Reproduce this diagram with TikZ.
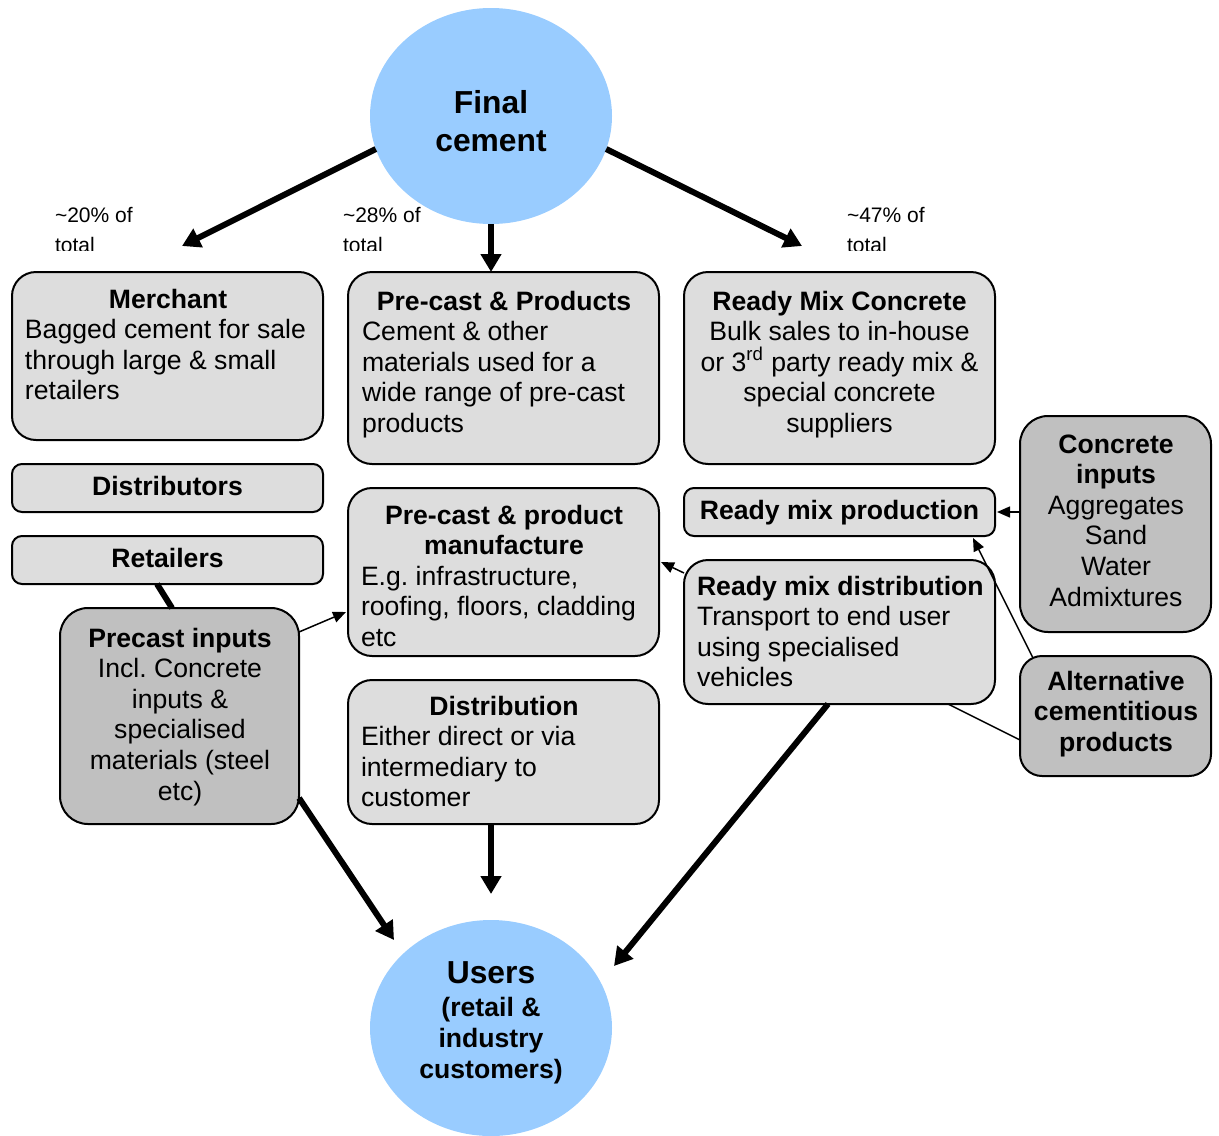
\documentclass[tikz,border=0pt]{standalone}
\usepackage{fontspec}
\setmainfont{Liberation Sans}
\usetikzlibrary{calc,shapes.geometric,arrows.meta}
\definecolor{capblue}{HTML}{99CCFF}
\definecolor{boxgray}{HTML}{DDDDDD}
\definecolor{darkgraybox}{HTML}{C0C0C0}
\newlength\pxu \setlength\pxu{0.5pt}
\newcommand\tl[1]{\vtop{\halign{##\hfil\cr#1\crcr}}}
\newcommand\tc[1]{\vtop{\halign{\hfil##\hfil\cr#1\crcr}}}
\newcommand\ctr[2]{\hbox to #1\pxu{\hss#2\hss}}
\frenchspacing
\begin{document}
\begin{tikzpicture}[x=0.5pt,y=-0.5pt,
  box/.style={draw, line width=1pt, fill=boxgray, rounded corners=12pt, inner sep=0pt, outer sep=0pt},
  thinbox/.style={box, rounded corners=5pt},
  darkbox/.style={box, fill=darkgraybox, rounded corners=14pt},
  bubble/.style={ellipse, fill=capblue, inner sep=0pt, outer sep=0pt, minimum width=121pt, minimum height=108pt},
  txt/.style={inner sep=0pt, outer sep=0pt, font=\fontsize{13.3}{15.3}\selectfont\frenchspacing},
  ltxt/.style={txt, anchor=base west},
  ctxt/.style={txt, anchor=base},
  pct/.style={inner sep=0pt, outer sep=0pt, anchor=base west, font=\fontsize{10.5}{15}\selectfont},
  bigarrow/.style={line width=3pt, -{Triangle[length=9pt,width=10pt]}},
  thinarrow/.style={line width=0.75pt, -{Triangle[length=6.5pt,width=5.5pt]}},
  thinline/.style={line width=0.75pt},
]
\useasboundingbox (0,0) rectangle (1219,1135);

% ellipses
\node[bubble] (fc) at (491,116) {};
\node[bubble] (users) at (491,1028) {};

% boxes
\node[box, minimum width=155.5pt, minimum height=84pt] (merchant) at (167.5,356) {};
\node[box, minimum width=155.5pt, minimum height=96pt] (pcp) at (503.5,368) {};
\node[box, minimum width=155.5pt, minimum height=96pt] (rmc) at (839.5,368) {};
\node[thinbox, minimum width=155.5pt, minimum height=24pt] (dist) at (167.5,488) {};
\node[thinbox, minimum width=155.5pt, minimum height=24pt] (ret) at (167.5,560) {};
\node[box, minimum width=155.5pt, minimum height=84pt] (pcm) at (503.5,572) {};
\node[thinbox, minimum width=155.5pt, minimum height=24pt] (rmp) at (839.5,512) {};
\node[box, minimum width=155.5pt, minimum height=72pt] (rmd) at (839.5,632) {};
\node[box, minimum width=155.5pt, minimum height=72pt] (distr) at (503.5,752) {};
\node[darkbox, minimum width=119.5pt, minimum height=108pt] (pci) at (179.5,716) {};
\node[darkbox, minimum width=95.5pt, minimum height=108pt] (ci) at (1115.5,524) {};
\node[darkbox, rounded corners=11pt, minimum width=95.5pt, minimum height=60pt] (alt) at (1115.5,716) {};

% texts
\node[ctxt, font=\fontsize{15.9}{19}\selectfont\bfseries] (fc-t) at (491,113) {\tc{Final\cr cement}};
\node[ctxt, font=\fontsize{13.3}{15.5}\selectfont\bfseries] (users-t) at (491,983)
  {\tc{\fontsize{15.9}{19}\selectfont Users\cr\noalign{\vskip1pt} (retail \&\cr industry\cr customers)}};

\node[ltxt] (merchant-t) at (25,308)
  {\tl{\ctr{286}{\textbf{Merchant}}\cr Bagged cement for sale\cr through large \& small\cr retailers}};
\node[ltxt] (pcp-t) at (362,310)
  {\tl{\ctr{284}{\textbf{Pre-cast \& Products}}\cr Cement \& other\cr materials used for a\cr wide range of pre-cast\cr products}};
\node[ctxt] (rmc-t) at (839.5,310)
  {\tc{\textbf{Ready Mix Concrete}\cr Bulk sales to in-house\cr or 3\textsuperscript{rd} party ready mix \&\cr special concrete\cr suppliers}};
\node[ctxt] (dist-t) at (167.5,495) {\textbf{Distributors}};
\node[ctxt] (ret-t) at (167.5,567) {\textbf{Retailers}};
\node[ltxt] (pcm-t) at (361,524)
  {\tl{\ctr{286}{\textbf{Pre-cast \& product}}\cr \ctr{286}{\textbf{manufacture}}\cr E.g. infrastructure,\cr roofing, floors, cladding\cr etc}};
\node[ctxt] (rmp-t) at (839.5,519) {\textbf{Ready mix production}};
\node[ltxt] (rmd-t) at (697,595)
  {\tl{\textbf{Ready mix distribution}\cr Transport to end user\cr using specialised\cr vehicles}};
\node[ltxt] (distr-t) at (361,715)
  {\tl{\ctr{286}{\textbf{Distribution}}\cr Either direct or via\cr intermediary to\cr customer}};
\node[ctxt] (pci-t) at (180,647)
  {\tc{\textbf{Precast inputs}\cr Incl. Concrete\cr inputs \&\cr specialised\cr materials (steel\cr etc)}};
\node[ctxt] (ci-t) at (1116,453)
  {\tc{\textbf{Concrete}\cr \textbf{inputs}\cr Aggregates\cr Sand\cr Water\cr Admixtures}};
\node[ctxt] (alt-t) at (1116,690)
  {\tc{\textbf{Alternative}\cr \textbf{cementitious}\cr \textbf{products}}};

% percentage labels (clipped)
\begin{scope}
  \clip (0,0) rectangle (1219,250);
  \node[pct] (p20) at (55,222) {\tl{\textasciitilde20\% of\cr total}};
  \node[pct] (p28) at (343,222) {\tl{\textasciitilde28\% of\cr total}};
  \node[pct] (p47) at (847,222) {\tl{\textasciitilde47\% of\cr total}};
\end{scope}

% free arrow ends
\coordinate (m-in) at (182,246);
\coordinate (r-in) at (802,246);
\coordinate (u-left) at (394,940);
\coordinate (u-top) at (491,894);
\coordinate (u-right) at (614,966);

% thick connectors
\draw[bigarrow] (fc.196) -- (m-in);
\draw[bigarrow] (fc.south) -- (fc.south |- pcp.north);
\draw[bigarrow] (fc.344) -- (r-in);
\draw[line width=3pt] ($(ret.south)+(-10.5,0)$) -- ($(pci.north)+(-7.5,0)$);
\draw[bigarrow] ($(pci.south east)+(0,-26)$) -- (u-left);
\draw[bigarrow] (distr.south -| users) -- (u-top);
\draw[bigarrow] ($(rmd.south)+(-11.5,0)$) -- (u-right);

% thin connectors
\draw[thinarrow] ($(pci.north east)+(0,24)$) -- ($(pcm.south west)+(-2,-44)$);
\draw[thinarrow] ($(rmd.north west)+(0,13)$) -- ($(pcm.north east)+(2,74)$);
\draw[thinarrow] (ci.west |- rmp.east) -- ($(rmp.east)+(2,0)$);
\draw[thinarrow] ($(alt.north west)+(13,2)$) -- ($(rmp.south east)+(-22,2)$);
\draw[thinline] ($(alt.west)+(0,24)$) -- ($(rmd.south east)+(-47,0)$);
\end{tikzpicture}
\end{document}
